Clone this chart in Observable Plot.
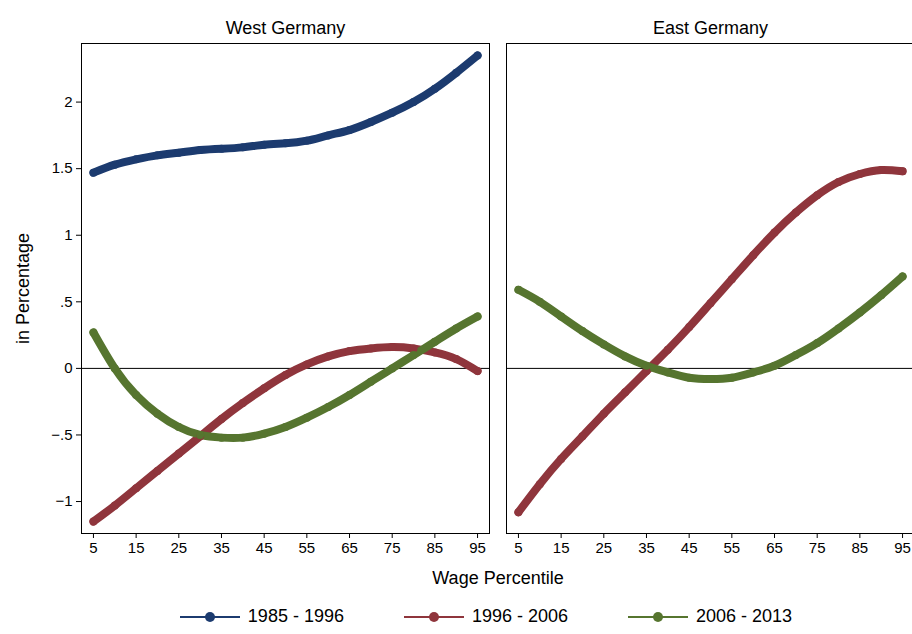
<!DOCTYPE html>
<html><head><meta charset="utf-8">
<script src="https://cdn.jsdelivr.net/npm/d3@7"></script>
<script src="https://cdn.jsdelivr.net/npm/@observablehq/plot@0.6"></script>
<style>
body{margin:0;background:#fff;font-family:Arial,"Liberation Sans",sans-serif;overflow:hidden}
#graph{width:912px;overflow:hidden}
#legend{display:flex;justify-content:center;gap:60px;font-size:18px;margin-top:8px;padding-left:60px}
#legend span{display:flex;align-items:center;gap:8px}
</style></head><body>
<div id="graph"></div>
<div id="legend"></div>
<script>
const pct = [5,10,15,20,25,30,35,40,45,50,55,60,65,70,75,80,85,90,95];
const series = ["1985 - 1996", "1996 - 2006", "2006 - 2013"];
const colors = ["#1c3b6f", "#8f353c", "#56752f"];
const regions = ["West Germany", "East Germany"];
const west8596 = [1.47,1.53,1.57,1.60,1.62,1.64,1.65,1.66,1.68,1.69,1.71,1.75,1.79,1.85,1.92,2.0,2.1,2.22,2.35];
const west9606 = [-1.15,-1.03,-0.90,-0.77,-0.64,-0.51,-0.38,-0.26,-0.15,-0.05,0.03,0.09,0.13,0.15,0.16,0.15,0.12,0.07,-0.02];
const west0613 = [0.27,0.0,-0.2,-0.34,-0.44,-0.50,-0.52,-0.52,-0.49,-0.44,-0.37,-0.29,-0.20,-0.10,0.0,0.10,0.20,0.30,0.39];
const east9606 = [-1.08,-0.87,-0.68,-0.51,-0.34,-0.18,-0.02,0.14,0.31,0.49,0.67,0.85,1.02,1.17,1.30,1.40,1.46,1.49,1.48];
const east0613 = [0.59,0.50,0.39,0.28,0.18,0.09,0.02,-0.03,-0.07,-0.08,-0.07,-0.03,0.02,0.10,0.19,0.30,0.42,0.55,0.69];

const data = [];
function add(region, s, vals){ vals.forEach((v,i)=>data.push({region, series:s, x:pct[i], y:v})); }
add(regions[0], series[0], west8596);
add(regions[0], series[1], west9606);
add(regions[0], series[2], west0613);
add(regions[1], series[1], east9606);
add(regions[1], series[2], east0613);

const chart = Plot.plot({
  width: 914, height: 598,
  marginTop: 43, marginBottom: 65, marginLeft: 80, marginRight: 0,
  style: {fontFamily: "Arial, 'Liberation Sans', sans-serif", fontSize: "15px", color: "#000"},
  fx: {domain: regions, padding: 0.04, label: null, axis: "top", tickSize: 0, tickPadding: 10},
  x: {domain: [2.2, 97.8], ticks: d3.range(5, 96, 10), label: "Wage Percentile", labelAnchor: "center", labelArrow: "none", labelOffset: 50, tickSize: 5},
  y: {domain: [-1.24, 2.44], ticks: [-1,-0.5,0,0.5,1,1.5,2], tickFormat: d => d3.format("")(d).replace("0.", "."), label: "in Percentage", labelAnchor: "center", labelArrow: "none", labelOffset: 65, tickSize: 5},
  color: {domain: series, range: colors},
  marks: [
    Plot.frame({stroke: "#000"}),
    Plot.ruleY([0], {stroke: "#000", strokeWidth: 1}),
    Plot.line(data, {fx: "region", x: "x", y: "y", z: "series", stroke: "series", strokeWidth: 8, curve: "natural"}),
    Plot.dot(data, {fx: "region", x: "x", y: "y", fill: "series", r: 4})
  ]
});
chart.style.maxWidth = "none";
chart.querySelectorAll("g[aria-label='fx-axis tick label'], g[aria-label='x-axis label'], g[aria-label='y-axis label']").forEach(g=>g.style.fontSize="18px");
document.getElementById("graph").append(chart);

const lg = document.getElementById("legend");
series.forEach((s,i)=>{
  lg.insertAdjacentHTML("beforeend", `<span><svg width="60" height="12"><line x1="0" x2="60" y1="6" y2="6" stroke="${colors[i]}" stroke-width="2"/><circle cx="30" cy="6" r="5" fill="${colors[i]}"/></svg>${s}</span>`);
});
</script>
</body></html>
